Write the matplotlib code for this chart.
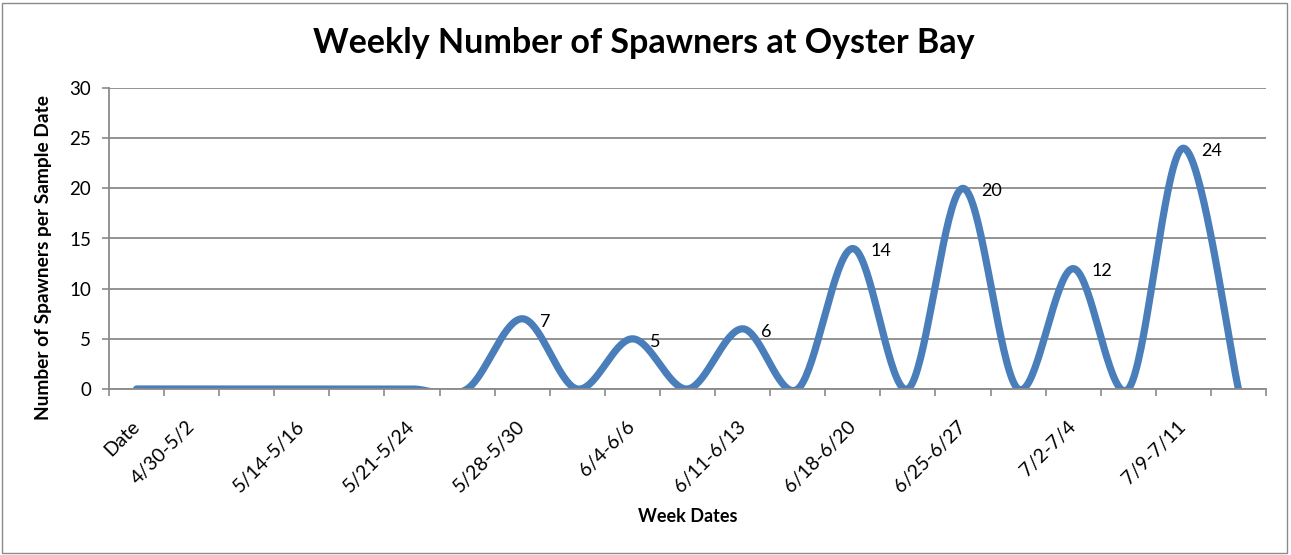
import matplotlib
matplotlib.use("Agg")
import matplotlib.pyplot as plt
import numpy as np
from matplotlib.patches import Rectangle

# data (every other category is a blank row in the sheet)
week_labels = ['Date', '4/30-5/2', '', '5/14-5/16', '', '5/21-5/24', '',
               '5/28-5/30', '', '6/4-6/6', '', '6/11-6/13', '', '6/18-6/20', '',
               '6/25-6/27', '', '7/2-7/4', '', '7/9-7/11', '']
spawners = [0, 0, 0, 0, 0, 0, 0, 7, 0, 5, 0, 6, 0, 14, 0, 20, 0, 12, 0, 24, 0]

LINE = '#4a7ebb'
GREY = '#8a8a8a'
plt.rcParams['font.family'] = ['Lato', 'DejaVu Sans']


def smooth(xs, ys, steps=40):
    # bezier smoothing the way the spreadsheet draws "smoothed line"
    xs = np.asarray(xs, float)
    ys = np.asarray(ys, float)
    n = len(xs)
    out_x, out_y = [], []
    t = np.linspace(0, 1, steps)
    for i in range(n - 1):
        i0 = max(i - 1, 0)
        i3 = min(i + 2, n - 1)
        for arr, out in ((xs, out_x), (ys, out_y)):
            p0, p1 = arr[i], arr[i + 1]
            c1 = p0 + (p1 - arr[i0]) / 6
            c2 = p1 - (arr[i3] - p0) / 6
            out.extend((1 - t) ** 3 * p0 + 3 * (1 - t) ** 2 * t * c1
                       + 3 * (1 - t) * t ** 2 * c2 + t ** 3 * p1)
    return np.array(out_x), np.array(out_y)


fig = plt.figure(figsize=(12.91, 5.55), dpi=100)
ax = fig.add_axes([109 / 1291, 166 / 555, 1157 / 1291, 301 / 555])

x = np.arange(len(spawners))
sx, sy = smooth(x, spawners)
ax.plot(sx, sy, color=LINE, linewidth=5.2, solid_capstyle='round', zorder=2)

for xi, v in zip(x, spawners):
    if v > 0:
        ax.annotate(str(v), (xi, v), xytext=(13, -2), textcoords='offset points',
                    ha='left', va='center', fontsize=13)

ax.set_xlim(-0.5, len(spawners) - 0.5)
ax.set_ylim(0, 30)
ax.set_yticks(range(0, 31, 5))
ax.grid(axis='y', color=GREY, linewidth=1.3, zorder=0)
ax.set_axisbelow(True)

# ticks on category borders, labels on category centres
ax.set_xticks(np.arange(-0.5, len(spawners), 1))
ax.set_xticklabels([])
ax.set_xticks(x, minor=True)
ax.set_xticklabels(week_labels, minor=True, rotation=45, ha='right', va='center',
                   rotation_mode='anchor', fontsize=14)
ax.tick_params(axis='x', which='major', length=5, width=1.2, color=GREY)
ax.tick_params(axis='x', which='minor', length=0, pad=25)
ax.tick_params(axis='y', length=5, width=1.2, color=GREY, pad=8, labelsize=13.5)

for side in ['top', 'right']:
    ax.spines[side].set_visible(False)
for side in ['left', 'bottom']:
    ax.spines[side].set_color(GREY)
    ax.spines[side].set_linewidth(1.3)

ax.set_ylabel('Number of Spawners per Sample Date', fontsize=13.8, fontweight='bold', va='center')
ax.yaxis.set_label_coords(-0.057, 0.4385)
ax.set_xlabel('Week Dates', fontsize=13, fontweight='bold', va='center')
ax.xaxis.set_label_coords(0.5, -0.425)

fig.text(0.4985, 1 - 43 / 555, 'Weekly Number of Spawners at Oyster Bay',
         ha='center', va='center', fontsize=24.5, fontweight='bold')

fig.patches.append(Rectangle((2 / 1291, 2 / 555), 1285 / 1291, 550 / 555, transform=fig.transFigure,
                             fill=False, edgecolor=GREY, linewidth=1))

fig.savefig('out.png', dpi=100)
